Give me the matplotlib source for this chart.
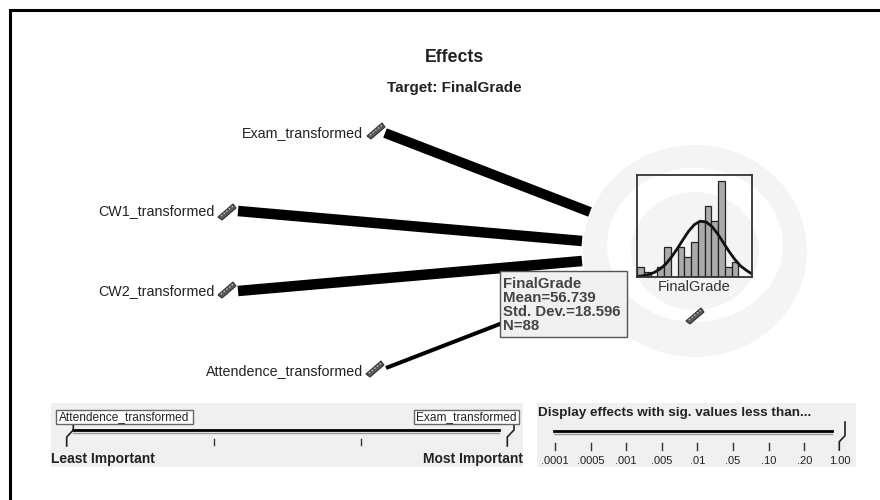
import matplotlib
matplotlib.use("Agg")
import matplotlib.pyplot as plt
from matplotlib.patches import Rectangle, Ellipse, Polygon

plt.rcParams['font.family'] = ['Liberation Sans', 'DejaVu Sans']

# ---- data ----
title = "Effects"
subtitle = "Target: FinalGrade"
predictors = ["Exam_transformed", "CW1_transformed", "CW2_transformed", "Attendence_transformed"]
effect_widths = [10, 10.5, 10.5, 4]
hist_counts = [2, 1, 0, 2, 6, 0, 6, 4, 7, 11, 14, 11, 19, 2, 3, 0, 0]
curve_x = [0, 5, 10, 15, 20, 25, 30, 35, 40, 45, 50, 55, 60, 65, 70, 75, 80, 85, 90, 95, 100]
curve_y = [0.11, 0.23, 0.47, 0.9, 1.58, 2.57, 3.95, 5.6, 7.4, 9.1, 10.4, 11.05, 10.9, 10.05,
           8.6, 6.85, 5.08, 3.5, 2.2, 1.33, 0.6]
tooltip = ["FinalGrade", "Mean=56.739", "Std. Dev.=18.596", "N=88"]
sig_labels = [".0001", ".0005", ".001", ".005", ".01", ".05", ".10", ".20", "1.00"]

# ---- layout (pixels) ----
W, H = 880, 500
line_starts = [(385, 133), (238, 211), (238, 291), (386, 368)]
line_ends = [(590, 212), (582, 241), (582, 261), (505, 322)]
label_right = [363, 215, 215, 363]
label_y = [133, 211, 291, 371]
ruler_xy = [(376, 131), (227, 212), (227, 290), (375, 369), (695, 316)]
rings = [(251, 224, 212, "#f4f4f4"), (245, 176, 154, "white"), (251, 128, 118, "#f4f4f4")]
TEXT = "#222222"

fig = plt.figure(figsize=(W / 100, H / 100), dpi=100, facecolor="white")
ax = fig.add_axes([0, 0, 1, 1])
ax.set_xlim(0, W)
ax.set_ylim(H, 0)
ax.axis("off")

# frame: only the top and left edges are visible
ax.plot([10, 10, W], [H, 10, 10], color="black", lw=2.2, solid_joinstyle="miter", zorder=1)

# rings
for cy, w, h, c in rings:
    ax.add_patch(Ellipse((695, cy), w, h, fc=c, ec="none", zorder=2))

ax.text(454.5, 57, title, ha="center", va="center", fontsize=12.8, fontweight="bold", color=TEXT)
ax.text(454, 88, subtitle, ha="center", va="center", fontsize=11, fontweight="bold", color=TEXT)

# effect lines
for (s, e, w) in zip(line_starts, line_ends, effect_widths):
    ax.plot([s[0], e[0]], [s[1], e[1]], color="black", lw=w * 0.72, solid_capstyle="butt", zorder=3)

for name, xr, y in zip(predictors, label_right, label_y):
    ax.text(xr, y, name, ha="right", va="center", fontsize=10.3, color=TEXT)

def ruler(cx, cy):
    ax.add_patch(Polygon([(cx - 9, cy + 5), (cx + 6, cy - 8), (cx + 9, cy - 4), (cx - 5, cy + 8)],
                         closed=True, fc="#5a5a5a", ec="#333333", lw=0.8, zorder=4))
    ax.plot([cx - 6, cx + 6], [cy + 4, cy - 6], color="#c8c8c8", lw=1, ls=(0, (1, 1.5)), zorder=5)

for cx, cy in ruler_xy:
    ruler(cx, cy)

# histogram
hax = fig.add_axes([637 / W, 1 - 277 / H, 115 / W, 102.5 / H], facecolor="none", zorder=5)
edges = [100 / len(hist_counts) * i for i in range(len(hist_counts))]
hax.bar(edges, hist_counts, width=100 / len(hist_counts), align="edge", color="#aaaaaa",
        edgecolor="#222222", linewidth=0.9)
hax.plot(curve_x, curve_y, color="#111111", lw=2)
hax.set_xlim(0, 100)
hax.set_ylim(0, 20.3)
hax.set_xticks([])
hax.set_yticks([])
for s in hax.spines.values():
    s.set_color("#333333")
    s.set_linewidth(1.3)
ax.text(694.5, 287, "FinalGrade", ha="center", va="center", fontsize=10.5, color="#333333", zorder=4)

# tooltip
ax.add_patch(Rectangle((500, 271), 127, 66, fc="#f0f0f0", ec="#555555", lw=1, zorder=6))
for i, t in enumerate(tooltip):
    ax.text(503, 283.5 + i * 14, t, ha="left", va="center", fontsize=10.8, fontweight="bold",
            color="#444444", zorder=7)

# importance slider
ax.add_patch(Rectangle((51, 403), 472, 64, fc="#f0f0f0", ec="none", zorder=2))
ax.plot([73, 499], [430, 430], color="black", lw=2, zorder=3)
ax.plot([73, 499], [432.5, 432.5], color="#999999", lw=1, zorder=3)
for x in [214, 361]:
    ax.plot([x, x], [439, 445], color="#333333", lw=1, zorder=3)
ax.plot([66.7, 66.7, 73.3, 73.3], [446, 437, 430, 425], color="#222222", lw=1.2, zorder=3)
ax.plot([507.3, 507.3, 514, 514], [446, 437, 430, 425], color="#222222", lw=1.2, zorder=3)
for x0, x1, t in [(55.5, 192.5, "Attendence_transformed"), (414, 518.5, "Exam_transformed")]:
    ax.add_patch(Rectangle((x0, 410), x1 - x0, 14, fc="white", ec="#666666", lw=1, zorder=3))
    ax.text((x0 + x1) / 2, 417, t, ha="center", va="center", fontsize=8.6, color=TEXT, zorder=4)
ax.text(51, 459, "Least Important", ha="left", va="center", fontsize=10, fontweight="bold", color=TEXT, zorder=4)
ax.text(523, 459, "Most Important", ha="right", va="center", fontsize=10, fontweight="bold", color=TEXT, zorder=4)

# significance slider
ax.add_patch(Rectangle((537, 403), 319, 64, fc="#f0f0f0", ec="none", zorder=2))
ax.text(538, 413, "Display effects with sig. values less than...", ha="left", va="center",
        fontsize=9.7, fontweight="bold", color=TEXT, zorder=4)
ax.plot([554, 832], [431, 431], color="black", lw=2, zorder=3)
ax.plot([554, 832], [433.5, 433.5], color="#999999", lw=1, zorder=3)
ax.plot([839.3, 839.3, 845, 845], [450, 441.7, 435.7, 422], color="#222222", lw=1.2, zorder=3)
for i, lab in enumerate(sig_labels):
    x = 555 + i * 35.6
    if i < len(sig_labels) - 1:
        ax.plot([x, x], [443, 450], color="#333333", lw=1, zorder=3)
    ax.text(x, 460.5, lab, ha="center", va="center", fontsize=8, color=TEXT, zorder=4)

fig.savefig("out.png", dpi=100)
